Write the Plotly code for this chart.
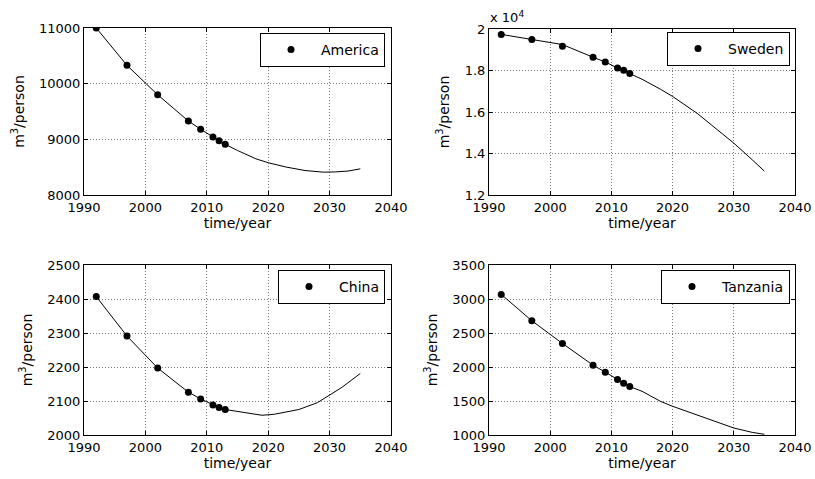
import plotly.graph_objects as go

# ---- data ----
obs_years = [1992, 1997, 2002, 2007, 2009, 2011, 2012, 2013]
fit_years = [1992, 1997, 2002, 2007, 2009, 2011, 2012, 2013, 2015, 2018, 2020, 2023, 2026, 2029, 2031, 2033, 2035]

america_obs = [11000, 10330, 9800, 9330, 9180, 9040, 8975, 8910]
america_fit = [11000, 10330, 9800, 9330, 9180, 9040, 8975, 8910, 8800, 8650, 8580, 8500, 8440, 8410, 8415, 8430, 8470]

sweden_obs = [19740, 19500, 19170, 18640, 18410, 18120, 18010, 17850]
sweden_fit_years = [1992, 1997, 2002, 2007, 2009, 2011, 2012, 2013, 2015, 2018, 2020, 2024, 2028, 2030, 2033, 2035]
sweden_fit = [19740, 19500, 19250, 18640, 18410, 18120, 18010, 17850, 17580, 17100, 16750, 15940, 14980, 14500, 13700, 13150]

china_obs = [2407, 2291, 2197, 2126, 2106, 2088, 2081, 2075]
china_fit_years = [1992, 1997, 2002, 2007, 2009, 2011, 2012, 2013, 2015, 2017, 2019, 2021, 2025, 2028, 2030, 2032, 2035]
china_fit = [2407, 2291, 2197, 2126, 2106, 2088, 2081, 2075, 2069, 2062, 2058, 2061, 2075, 2095, 2118, 2140, 2181]

tanzania_obs = [3068, 2680, 2346, 2027, 1924, 1816, 1762, 1712]
tanzania_fit_years = [1992, 1997, 2002, 2007, 2009, 2011, 2012, 2013, 2015, 2018, 2020, 2023, 2026, 2030, 2033, 2035]
tanzania_fit = [3068, 2680, 2346, 2027, 1924, 1816, 1762, 1712, 1643, 1496, 1422, 1324, 1226, 1103, 1039, 1010]

x_ticks = [1990, 2000, 2010, 2020, 2030, 2040]
america_ticks = [8000, 9000, 10000, 11000]
sweden_ticks = [1.2, 1.4, 1.6, 1.8, 2.0]
sweden_ticklabels = ["1.2", "1.4", "1.6", "1.8", "2"]
china_ticks = [2000, 2100, 2200, 2300, 2400, 2500]
tanzania_ticks = [1000, 1500, 2000, 2500, 3000, 3500]

FONT = "DejaVu Sans, Arial, sans-serif"
FS_TICK = 13
FS = 14
W, H = 815, 479

panels = [
    dict(name="America", obs=america_obs, fy=fit_years, fit=america_fit, scale=1,
         yr=[8000, 11000], tv=america_ticks, tt=[str(v) for v in america_ticks],
         box=(84, 391, 28, 195), leg=(385, 33)),
    dict(name="Sweden", obs=sweden_obs, fy=sweden_fit_years, fit=sweden_fit, scale=1e4,
         yr=[1.2, 2.0], tv=sweden_ticks, tt=sweden_ticklabels,
         box=(489, 795, 29, 195), leg=(790, 32)),
    dict(name="China", obs=china_obs, fy=china_fit_years, fit=china_fit, scale=1,
         yr=[2000, 2500], tv=china_ticks, tt=[str(v) for v in china_ticks],
         box=(84, 391, 265, 435), leg=(385, 270)),
    dict(name="Tanzania", obs=tanzania_obs, fy=tanzania_fit_years, fit=tanzania_fit, scale=1,
         yr=[1000, 3500], tv=tanzania_ticks, tt=[str(v) for v in tanzania_ticks],
         box=(489, 795, 265, 435), leg=(790, 270)),
]

fig = go.Figure()
layout = {}
for i, p in enumerate(panels):
    k = "" if i == 0 else str(i + 1)
    xa, ya = "x" + k, "y" + k
    lg = "legend" + k
    s = p["scale"]
    fig.add_trace(go.Scatter(x=p["fy"], y=[v / s for v in p["fit"]], mode="lines",
                             line=dict(color="black", width=1), showlegend=False,
                             xaxis=xa, yaxis=ya, hoverinfo="skip"))
    fig.add_trace(go.Scatter(x=obs_years, y=[v / s for v in p["obs"]], mode="markers",
                             marker=dict(color="black", size=7), name=p["name"],
                             xaxis=xa, yaxis=ya, legend=lg))
    x0, x1, y0, y1 = p["box"]
    axcommon = dict(showline=True, linecolor="black", linewidth=1, mirror="ticks",
                    ticks="inside", ticklen=4, tickcolor="black",
                    showgrid=True, gridcolor="#7a7a7a", griddash="1px,2px", gridwidth=1,
                    zeroline=False, automargin=False,
                    tickfont=dict(family=FONT, size=FS_TICK, color="black"))
    layout["xaxis" + k] = dict(domain=[x0 / W, x1 / W], range=[1990, 2040], tickvals=x_ticks,
                               anchor=ya,
                               title=dict(text="time/year", font=dict(family=FONT, size=FS, color="black"), standoff=1),
                               **axcommon)
    layout["yaxis" + k] = dict(domain=[1 - y1 / H, 1 - y0 / H], range=p["yr"],
                               tickvals=p["tv"], ticktext=p["tt"], anchor=xa,
                               title=dict(text="m<sup>3</sup>/person", font=dict(family=FONT, size=FS, color="black"), standoff=11),
                               **axcommon)
    lx, ly = p["leg"]
    layout[lg] = dict(x=lx / W, y=1 - ly / H, xanchor="right", yanchor="top",
                      xref="paper", yref="paper", bgcolor="white", bordercolor="black", borderwidth=1,
                      font=dict(family=FONT, size=FS, color="black"),
                      itemwidth=50, tracegroupgap=0)

fig.update_layout(**layout)
fig.add_annotation(text="x 10<sup>4</sup>", x=488 / W, y=1 - 7 / H, xref="paper", yref="paper",
                   xanchor="left", yanchor="top", showarrow=False,
                   font=dict(family=FONT, size=13, color="black"))
fig.update_layout(width=W, height=H, margin=dict(l=0, r=0, t=0, b=0, autoexpand=False),
                  paper_bgcolor="white", plot_bgcolor="white",
                  font=dict(family=FONT, size=FS, color="black"))
fig.write_html("out.html")
